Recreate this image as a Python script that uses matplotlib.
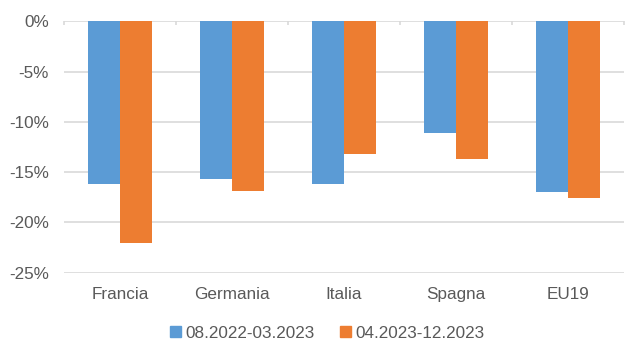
import numpy as np
import matplotlib.pyplot as plt
from matplotlib.ticker import FuncFormatter
from matplotlib.patches import Patch

plt.rcParams['font.family'] = ['Liberation Sans', 'DejaVu Sans']

categories = ['Francia', 'Germania', 'Italia', 'Spagna', 'EU19']
period_1 = [-16.2, -15.7, -16.2, -11.1, -17.0]
period_2 = [-22.0, -16.9, -13.2, -13.7, -17.6]
labels = ['08.2022-03.2023', '04.2023-12.2023']
colors = ['#5B9BD5', '#ED7D31']

text_color = '#595959'
grid_color = '#D9D9D9'
fs = 12.3

fig = plt.figure(figsize=(6.27, 3.42), dpi=100)
ax = fig.add_axes([64 / 627, 1 - 272.7 / 342, 560 / 627, (272.7 - 21.3) / 342])

x = np.arange(len(categories))
w = 0.286
ax.bar(x - w / 2, period_1, width=w, color=colors[0], zorder=2)
ax.bar(x + w / 2, period_2, width=w, color=colors[1], zorder=2)

ax.set_xlim(-0.5, len(categories) - 0.5)
ax.set_ylim(-25, 0)
ax.set_yticks(np.arange(-25, 1, 5))
ax.yaxis.set_major_formatter(FuncFormatter(lambda v, p: f'{v:.0f}%'))
ax.grid(axis='y', color=grid_color, linewidth=1.2, zorder=0)
ax.set_axisbelow(True)

# category separator ticks hanging off the zero line
ax.vlines(np.arange(len(categories) + 1) - 0.5, -0.4, 0, color=grid_color,
          linewidth=1.2, zorder=1, clip_on=False)

ax.set_xticks(x)
ax.set_xticklabels(categories)
ax.tick_params(axis='x', length=0, pad=10, labelsize=fs, labelcolor=text_color)
ax.tick_params(axis='y', length=0, pad=11, labelsize=fs, labelcolor=text_color)
for s in ax.spines.values():
    s.set_visible(False)

handles = [Patch(color=c, label=l) for c, l in zip(colors, labels)]
fig.legend(handles=handles, loc='center', bbox_to_anchor=(0.522, 1 - 333 / 342),
           ncol=2, frameon=False, fontsize=fs, labelcolor=text_color,
           handlelength=0.65, handleheight=0.65, handletextpad=0.25, columnspacing=1.5)

fig.savefig('out.png', dpi=100)
